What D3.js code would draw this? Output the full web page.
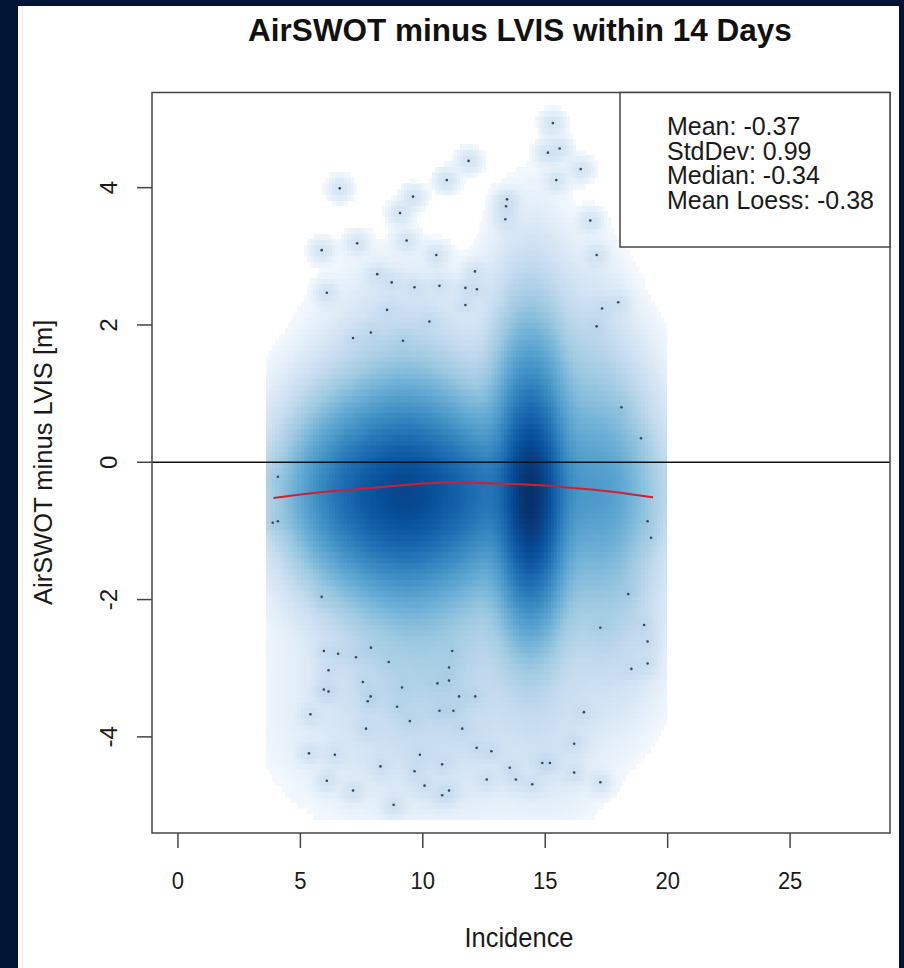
<!DOCTYPE html>
<html>
<head>
<meta charset="utf-8">
<script src="https://cdn.jsdelivr.net/npm/d3@7"></script>
<style>
html, body { margin: 0; padding: 0; background: #011435; }
svg { display: block; font-family: "Liberation Sans", Arial, sans-serif; }
</style>
</head>
<body>
<svg id="chart"></svg>
<script>
var width = 904, height = 968;

// axes
var xTicks = [0, 5, 10, 15, 20, 25];
var yTicks = [-4, -2, 0, 2, 4];
var stats = ["Mean: -0.37", "StdDev: 0.99", "Median: -0.34", "Mean Loess: -0.38"];

// loess curve
var loessX = [3.9, 5, 6, 7, 8, 9, 10, 11, 12, 13, 14, 15, 16, 17, 18, 19, 19.4];
var loessY = [-0.52, -0.47, -0.43, -0.40, -0.37, -0.34, -0.31, -0.29, -0.30, -0.31, -0.32, -0.34, -0.37, -0.40, -0.44, -0.49, -0.51];

// the sparse points drawn as dots [incidence, difference]
var sparse = [
  [15.31, 4.94], [15.11, 4.51], [15.59, 4.57], [11.87, 4.39], [16.45, 4.27], [15.45, 4.11], [6.61, 3.99], [10.98, 4.11],
  [9.60, 3.87], [13.44, 3.83], [13.40, 3.73], [13.37, 3.54], [9.07, 3.63], [16.84, 3.52], [7.32, 3.19], [5.87, 3.09],
  [9.34, 3.23], [10.55, 3.02], [17.10, 3.02], [8.14, 2.74], [12.13, 2.78], [8.73, 2.62], [9.66, 2.55], [10.68, 2.57],
  [11.74, 2.54], [12.21, 2.52], [6.08, 2.47], [17.98, 2.33], [17.32, 2.24], [8.54, 2.22], [11.74, 2.29], [10.27, 2.05],
  [17.10, 1.98], [7.15, 1.81], [7.88, 1.89], [9.19, 1.77], [18.11, 0.80], [18.91, 0.35],
  [4.08, -0.21], [3.87, -0.88], [4.08, -0.86], [19.18, -0.86], [19.32, -1.10], [5.87, -1.96], [18.39, -1.92], [17.25, -2.41],
  [19.04, -2.37], [19.18, -2.61], [19.18, -2.93], [18.52, -3.01], [5.96, -2.75], [6.54, -2.79], [7.27, -2.84], [7.88, -2.70],
  [8.61, -2.91], [11.20, -2.75], [11.07, -2.99], [6.15, -3.03], [11.07, -3.18], [10.60, -3.22], [7.55, -3.20], [9.15, -3.28],
  [5.96, -3.31], [6.15, -3.34], [7.87, -3.41], [7.75, -3.48], [11.48, -3.41], [12.14, -3.41], [8.95, -3.56], [5.41, -3.67],
  [10.68, -3.62], [11.25, -3.62], [16.58, -3.64], [9.47, -3.77], [7.68, -3.88], [11.61, -3.88], [16.18, -4.10], [12.20, -4.16],
  [12.80, -4.21], [5.35, -4.24], [6.41, -4.26], [9.88, -4.26], [14.88, -4.38], [15.19, -4.38], [10.79, -4.40], [8.27, -4.43],
  [13.55, -4.45], [9.66, -4.50], [16.18, -4.52], [6.08, -4.64], [12.61, -4.62], [13.80, -4.62], [17.25, -4.66], [14.47, -4.69],
  [10.07, -4.71], [7.15, -4.78], [11.07, -4.78], [10.79, -4.85], [8.81, -4.99]
];

// the dense part of the cloud, as estimated gaussian blobs [x, y, spread x, spread y, weight]
var blobs = [
  [14.4, -0.6, 0.7, 0.85, 0.55],  // right core
  [14.4, -0.2, 0.9, 1.2, 0.35],   // right column
  [9.3, -0.5, 1.8, 0.75, 0.6],    // left core
  [9.4, 0.5, 1.6, 0.8, 0.05],     // left, upper
  [10.0, -2.0, 1.8, 0.9, 0.03],   // left, lower
  [10.3, -3.5, 2.8, 0.8, 0.01],   // lower spread
  [15.3, -3.8, 1.1, 0.7, 0.004],
  [9.0, 2.1, 1.6, 0.5, 0.0025],   // upper spread
  [11.5, -0.4, 4.0, 0.45, 0.08],  // band along the loess
  [6.5, -0.4, 1.2, 0.7, 0.12],
  [17.2, -0.4, 1.2, 0.9, 0.12],
  [12.0, -0.5, 0.8, 0.7, 0.1],
  [16.8, 1.3, 0.9, 0.8, 0.012],
  [17.5, -2.2, 1.2, 0.8, 0.015]
];

var blues9 = ["#F7FBFF", "#DEEBF7", "#C6DBEF", "#9ECAE1", "#6BAED6", "#4292C6", "#2171B5", "#08519C", "#08306B"];

var svg = d3.select("#chart").attr("width", width).attr("height", height);

svg.append("rect").attr("x", 18).attr("y", 6).attr("width", 881).attr("height", height - 6).attr("fill", "#fff");
svg.append("line").attr("x1", 22).attr("x2", 22).attr("y1", 6).attr("y2", height).attr("stroke", "#e4e4e4");

var x = d3.scaleLinear().domain([-1.06, 29.08]).range([152, 890]);
var y = d3.scaleLinear().domain([-5.40, 5.386]).range([833, 92.5]);

// density grid, like smoothScatter: fourth root of the density on a white-to-blues ramp
var ramp = ["#FFFFFF"].concat(blues9);
var color = d3.scaleLinear()
  .domain(ramp.map(function (c, i) { return i / (ramp.length - 1); }))
  .range(ramp)
  .clamp(true);

var nx = 128, ny = 128;
var gx0 = 3.6, gx1 = 19.95, gy0 = -5.2, gy1 = 5.2;
var gdx = (gx1 - gx0) / nx, gdy = (gy1 - gy0) / ny;
var ptW = 0.005, ptSX = 0.29, ptSY = 0.10;

var cells = [], dmax = 0;
for (var j = 0; j < ny; j++) {
  var cy = gy0 + (j + 0.5) * gdy;
  for (var i = 0; i < nx; i++) {
    var cx = gx0 + (i + 0.5) * gdx, d = 0;
    blobs.forEach(function (b) {
      var u = (cx - b[0]) / b[2], v = (cy - b[1]) / b[3];
      d += b[4] * Math.exp(-0.5 * (u * u + v * v));
    });
    sparse.forEach(function (p) {
      var u = (cx - p[0]) / ptSX, v = (cy - p[1]) / ptSY;
      d += ptW * Math.exp(-0.5 * (u * u + v * v));
    });
    cells.push({x0: gx0 + i * gdx, y0: gy0 + j * gdy, d: d});
    if (d > dmax) dmax = d;
  }
}
cells.forEach(function (c) { c.t = Math.pow(c.d / dmax, 0.25); });

svg.append("g")
  .attr("shape-rendering", "crispEdges")
  .selectAll("rect")
  .data(cells.filter(function (c) { return c.t > 0.13; }))
  .enter().append("rect")
  .attr("x", function (c) { return x(c.x0); })
  .attr("y", function (c) { return y(c.y0 + gdy); })
  .attr("width", x(gx0 + gdx) - x(gx0) + 0.6)
  .attr("height", y(gy0) - y(gy0 + gdy) + 0.6)
  .attr("fill", function (c) { return color(c.t); });

// sparse points
svg.append("g").selectAll("circle")
  .data(sparse)
  .enter().append("circle")
  .attr("cx", function (d) { return x(d[0]); })
  .attr("cy", function (d) { return y(d[1]); })
  .attr("r", 1.3)
  .attr("fill", "#3d4555");

// zero line and loess
svg.append("line")
  .attr("x1", 152).attr("x2", 890)
  .attr("y1", y(0)).attr("y2", y(0))
  .attr("stroke", "#111").attr("stroke-width", 1.5);

svg.append("path")
  .datum(loessX.map(function (d, i) { return [d, loessY[i]]; }))
  .attr("fill", "none")
  .attr("stroke", "#d0202e")
  .attr("stroke-width", 2)
  .attr("d", d3.line().x(function (d) { return x(d[0]); }).y(function (d) { return y(d[1]); }));

// axes
svg.append("g").selectAll("line").data(xTicks).enter().append("line")
  .attr("x1", x).attr("x2", x).attr("y1", 833).attr("y2", 848)
  .attr("stroke", "#444").attr("stroke-width", 1.5);
svg.append("g").selectAll("text").data(xTicks).enter().append("text")
  .attr("transform", function (d) { return "translate(" + x(d) + ",889) scale(1,1.08)"; })
  .attr("text-anchor", "middle").attr("font-size", 22).attr("fill", "#1a1a1a")
  .text(function (d) { return d; });

svg.append("g").selectAll("line").data(yTicks).enter().append("line")
  .attr("x1", 137).attr("x2", 152).attr("y1", y).attr("y2", y)
  .attr("stroke", "#444").attr("stroke-width", 1.5);
svg.append("g").selectAll("text").data(yTicks).enter().append("text")
  .attr("transform", function (d) { return "translate(117," + y(d) + ") rotate(-90)"; })
  .attr("text-anchor", "middle").attr("font-size", 24).attr("fill", "#1a1a1a")
  .text(function (d) { return d; });

// plot box
svg.append("rect")
  .attr("x", 152).attr("y", 92.5).attr("width", 738).attr("height", 740.5)
  .attr("fill", "none").attr("stroke", "#444").attr("stroke-width", 1.5);

// titles
svg.append("text")
  .attr("x", 520).attr("y", 41)
  .attr("text-anchor", "middle").attr("font-size", 31.5).attr("font-weight", "bold").attr("fill", "#111")
  .text("AirSWOT minus LVIS within 14 Days");
svg.append("text")
  .attr("transform", "translate(519,947) scale(1,1.08)")
  .attr("text-anchor", "middle").attr("font-size", 25.5).attr("fill", "#1a1a1a")
  .text("Incidence");
svg.append("text")
  .attr("transform", "translate(52," + y(0) + ") rotate(-90)")
  .attr("text-anchor", "middle").attr("font-size", 25.5).attr("fill", "#1a1a1a")
  .text("AirSWOT minus LVIS [m]");

// legend
svg.append("rect")
  .attr("x", 620).attr("y", 92.5).attr("width", 270).attr("height", 154.5)
  .attr("fill", "#fff").attr("stroke", "#444").attr("stroke-width", 1.5);
svg.append("g").selectAll("text").data(stats).enter().append("text")
  .attr("transform", function (d, i) { return "translate(667," + (135 + i * 24.7) + ") scale(1,1.06)"; })
  .attr("font-size", 25).attr("fill", "#1a1a1a")
  .text(function (d) { return d; });
</script>
</body>
</html>
